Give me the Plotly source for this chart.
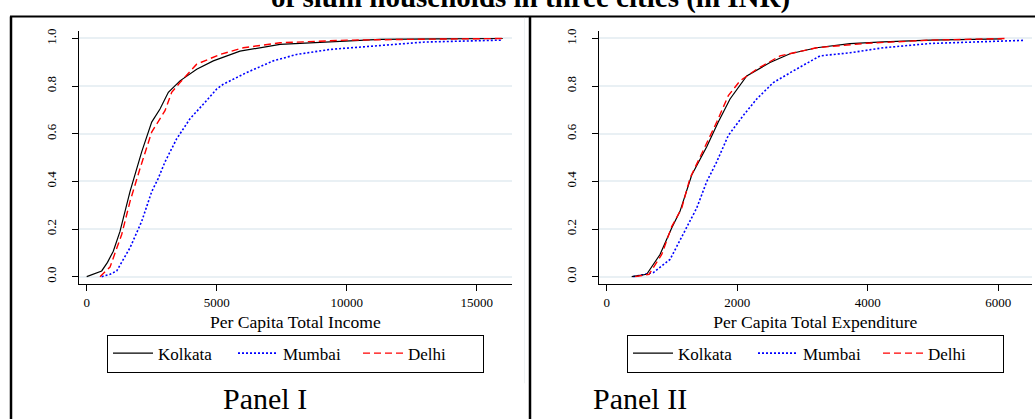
import plotly.graph_objects as go

W, H = 1035, 419


def fx(p):
    return p / W


def fy(p):
    return 1 - p / H


# ---------------- data ----------------
cities = ["Kolkata", "Mumbai", "Delhi"]
colors = {"Kolkata": "#000000", "Mumbai": "#0000ff", "Delhi": "#ff0000"}

# Panel I : per capita total income (INR) vs cumulative share
inc_kolkata_x = [0, 300, 577, 800, 1023, 1281, 1665, 2115, 2500, 2819, 3140, 3588, 4230, 4869, 5896, 7435, 9358, 11281, 13500, 16000]
inc_kolkata_y = [0.0, 0.012, 0.024, 0.06, 0.107, 0.19, 0.357, 0.524, 0.649, 0.704, 0.774, 0.822, 0.871, 0.906, 0.947, 0.975, 0.985, 0.996, 0.998, 1.0]
inc_mumbai_x = [577, 900, 1154, 1665, 2115, 2500, 2754, 3012, 3462, 3973, 4550, 5000, 5254, 6154, 7177, 8077, 9358, 11281, 13000, 15970]
inc_mumbai_y = [0.0, 0.01, 0.024, 0.121, 0.232, 0.357, 0.413, 0.482, 0.579, 0.663, 0.732, 0.788, 0.808, 0.857, 0.906, 0.933, 0.954, 0.971, 0.985, 0.993]
inc_delhi_x = [511, 896, 1346, 1665, 2050, 2500, 3012, 3269, 3588, 4230, 5127, 6023, 7435, 10000, 13000, 16012]
inc_delhi_y = [0.0, 0.04, 0.177, 0.315, 0.454, 0.607, 0.697, 0.774, 0.815, 0.892, 0.933, 0.961, 0.982, 0.993, 0.997, 1.0]

# Panel II : per capita total expenditure (INR) vs cumulative share
exp_kolkata_x = [383, 613, 817, 996, 1123, 1303, 1533, 1710, 1890, 2146, 2503, 2809, 3218, 3729, 4239, 4955, 6054]
exp_kolkata_y = [0.0, 0.01, 0.093, 0.204, 0.274, 0.427, 0.545, 0.649, 0.746, 0.843, 0.899, 0.936, 0.961, 0.978, 0.986, 0.993, 0.998]
exp_mumbai_x = [408, 715, 970, 1174, 1379, 1533, 1686, 1864, 2094, 2299, 2554, 2860, 3269, 3729, 4239, 4955, 6380]
exp_mumbai_y = [0.0, 0.017, 0.072, 0.177, 0.288, 0.399, 0.482, 0.593, 0.677, 0.746, 0.815, 0.864, 0.927, 0.940, 0.961, 0.979, 0.992]
exp_delhi_x = [437, 650, 843, 996, 1150, 1277, 1481, 1686, 1864, 2043, 2299, 2656, 3218, 3985, 4955, 6150]
exp_delhi_y = [0.0, 0.01, 0.093, 0.21, 0.288, 0.414, 0.531, 0.649, 0.76, 0.822, 0.871, 0.927, 0.961, 0.98, 0.993, 1.0]

y_ticks = [0.0, 0.2, 0.4, 0.6, 0.8, 1.0]
y_tick_text = ["0.0", "0.2", "0.4", "0.6", "0.8", "1.0"]
inc_ticks = [0, 5000, 10000, 15000]
inc_tick_text = ["0", "5000", "10000", "15000"]
exp_ticks = [0, 2000, 4000, 6000]
exp_tick_text = ["0", "2000", "4000", "6000"]

title_text = "of slum households in three cities (in INR)"
xtitle_left = "Per Capita Total Income"
xtitle_right = "Per Capita Total Expenditure"
panel_labels = ["Panel I", "Panel II"]

# ---------------- styling ----------------
SERIF = "Liberation Serif"
dash = {"Kolkata": "solid", "Mumbai": "2px,2px", "Delhi": "7px,4px"}
width = {"Kolkata": 1.2, "Mumbai": 1.6, "Delhi": 1.4}

series_left = {
    "Kolkata": (inc_kolkata_x, inc_kolkata_y),
    "Mumbai": (inc_mumbai_x, inc_mumbai_y),
    "Delhi": (inc_delhi_x, inc_delhi_y),
}
series_right = {
    "Kolkata": (exp_kolkata_x, exp_kolkata_y),
    "Mumbai": (exp_mumbai_x, exp_mumbai_y),
    "Delhi": (exp_delhi_x, exp_delhi_y),
}

fig = go.Figure()
draw_order = ["Mumbai", "Kolkata", "Delhi"]
for c in draw_order:
    x, y = series_left[c]
    fig.add_trace(go.Scatter(x=x, y=y, mode="lines", name=c, xaxis="x", yaxis="y",
                             line=dict(color=colors[c], width=width[c], dash=dash[c]),
                             legend="legend", legendrank=cities.index(c)))
for c in draw_order:
    x, y = series_right[c]
    fig.add_trace(go.Scatter(x=x, y=y, mode="lines", name=c, xaxis="x2", yaxis="y2",
                             line=dict(color=colors[c], width=width[c], dash=dash[c]),
                             legend="legend2", legendrank=cities.index(c)))

ydom = [fy(283.3), fy(28.3)]
common_y = dict(range=[-0.032, 1.031], tickvals=y_ticks, ticktext=y_tick_text, tickangle=-90,
                showline=True, linecolor="#000000", linewidth=1, ticks="outside", ticklen=6,
                tickcolor="#000000", showgrid=True, gridcolor="#e9f0f4", gridwidth=1.5,
                zeroline=False, tickfont=dict(family=SERIF, size=13, color="#000000"),
                ticklabelstandoff=11, fixedrange=True)
common_x = dict(showline=True, linecolor="#000000", linewidth=1, ticks="outside", ticklen=6,
                tickcolor="#000000", showgrid=False, zeroline=False,
                tickfont=dict(family=SERIF, size=13, color="#000000"), fixedrange=True)

legend_common = dict(y=fy(334), xanchor="left", yanchor="top", orientation="h",
                     bordercolor="#000000", borderwidth=1, bgcolor="#ffffff", itemwidth=40,
                     entrywidth=70, entrywidthmode="pixels",
                     font=dict(family=SERIF, size=17, color="#000000"), traceorder="normal")

fig.update_layout(
    width=W, height=H, margin=dict(l=0, r=0, t=0, b=0),
    paper_bgcolor="#ffffff", plot_bgcolor="#ffffff",
    xaxis=dict(domain=[fx(79), fx(511.7)], range=[-296, 16346], tickvals=inc_ticks,
               ticktext=inc_tick_text, anchor="y",
               title=dict(text=xtitle_left, standoff=6,
                          font=dict(family=SERIF, size=17.6, color="#000000")),
               **common_x),
    yaxis=dict(domain=ydom, anchor="x", **common_y),
    xaxis2=dict(domain=[fx(599), fx(1031.7)], range=[-118, 6513], tickvals=exp_ticks,
                ticktext=exp_tick_text, anchor="y2",
                title=dict(text=xtitle_right, standoff=6,
                           font=dict(family=SERIF, size=17.6, color="#000000")),
                **common_x),
    yaxis2=dict(domain=ydom, anchor="x2", **common_y),
    legend=dict(x=fx(107), **legend_common),
    legend2=dict(x=fx(627), **legend_common),
    showlegend=True,
)

# frame lines
fig.add_shape(type="line", xref="paper", yref="paper", x0=fx(10), x1=1, y0=fy(13.5), y1=fy(13.5),
              line=dict(color="#000000", width=2))
fig.add_shape(type="line", xref="paper", yref="paper", x0=fx(11), x1=fx(11), y0=0, y1=fy(13.5),
              line=dict(color="#000000", width=2.5))
fig.add_shape(type="line", xref="paper", yref="paper", x0=fx(530), x1=fx(530), y0=0, y1=fy(13.5),
              line=dict(color="#000000", width=2.5))
fig.add_shape(type="line", xref="paper", yref="paper", x0=fx(524.5), x1=fx(524.5), y0=fy(383), y1=fy(15),
              line=dict(color="#eef2f4", width=1))

# title (clipped at the top like the source)
fig.add_annotation(text="<b>" + title_text + "</b>", xref="paper", yref="paper",
                   x=fx(530), y=fy(13.3), xanchor="center", yanchor="bottom", showarrow=False,
                   font=dict(family=SERIF, size=29, color="#000000"))

# panel labels
for lab, cx in zip(panel_labels, [265, 640]):
    fig.add_annotation(text=lab, xref="paper", yref="paper", x=fx(cx), y=fy(398),
                       xanchor="center", yanchor="middle", showarrow=False,
                       font=dict(family=SERIF, size=30, color="#000000"))

fig.write_html("out.html", config={"displayModeBar": False},
               post_script="document.body.style.margin='0';document.body.style.overflow='hidden';")
